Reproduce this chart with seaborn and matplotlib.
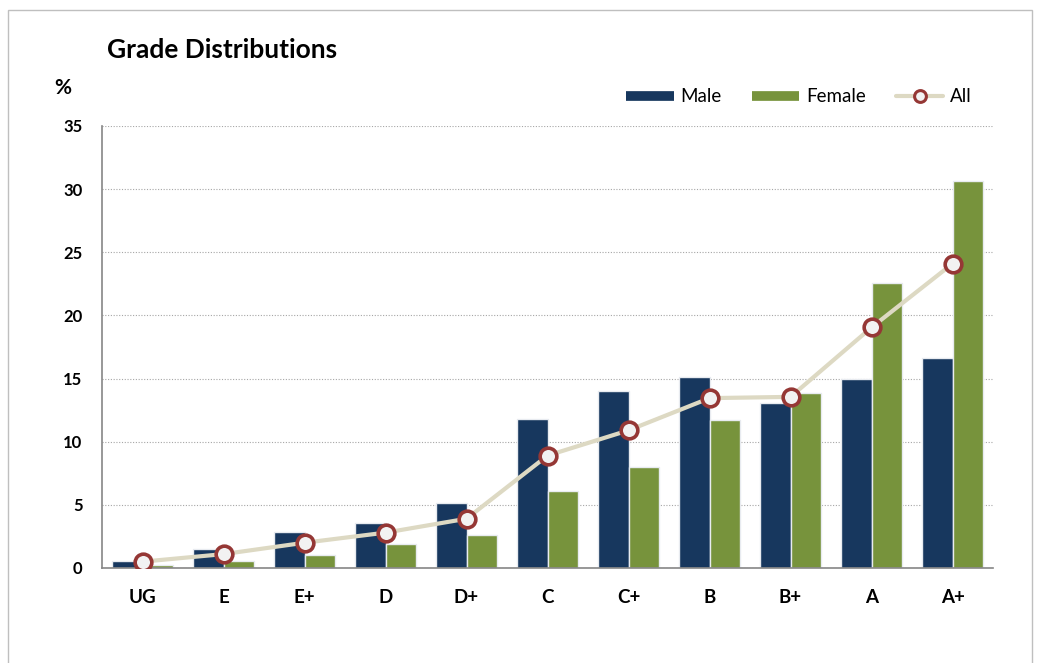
import pandas as pd
import seaborn as sns
import matplotlib.pyplot as plt
from matplotlib.lines import Line2D
from matplotlib.patches import Rectangle

# Data (percent)
grades = ["UG", "E", "E+", "D", "D+", "C", "C+", "B", "B+", "A", "A+"]
male = [0.55, 1.5, 2.85, 3.55, 5.15, 11.8, 14.0, 15.1, 13.05, 14.95, 16.65]
female = [0.25, 0.55, 1.0, 1.9, 2.6, 6.1, 8.0, 11.7, 13.85, 22.6, 30.65]
all_students = [0.5, 1.1, 2.0, 2.8, 3.9, 8.9, 10.9, 13.45, 13.55, 19.05, 24.1]

navy = "#17375E"
olive = "#77933C"
line_col = "#DDD9C3"
marker_edge = "#953735"

sns.set_style("white")
plt.rcParams["font.family"] = ["Lato", "DejaVu Sans"]
plt.rcParams["text.color"] = "black"
plt.rcParams["xtick.color"] = "black"
plt.rcParams["ytick.color"] = "black"

bars = pd.DataFrame({
    "grade": grades * 2,
    "pct": male + female,
    "sex": ["Male"] * len(grades) + ["Female"] * len(grades),
})
overall = pd.DataFrame({"grade": grades, "pct": all_students})

fig = plt.figure(figsize=(10.44, 6.63), dpi=100)
ax = fig.add_axes([0.0977, 0.1433, 0.8535, 0.6667])

sns.barplot(data=bars, x="grade", y="pct", hue="sex", order=grades,
            palette=[navy, olive], saturation=1, width=0.76,
            edgecolor="#E8EBF0", linewidth=1, legend=False, ax=ax, zorder=2)
sns.pointplot(data=overall, x="grade", y="pct", order=grades, color=line_col,
              markers="o", linestyles="-", errorbar=None, ax=ax,
              markersize=12, markerfacecolor="#F2F2F2",
              markeredgecolor=marker_edge, markeredgewidth=2.6,
              linewidth=3, zorder=4)

ax.set_xlim(-0.5, len(grades) - 0.5)
ax.set_ylim(0, 35)
ax.set_yticks(range(0, 36, 5))
ax.yaxis.grid(True, linestyle=(0, (1, 1.5)), color="#A6A6A6", linewidth=0.8)
ax.set_axisbelow(True)
ax.set_xlabel("")
ax.set_ylabel("")

for s in ["top", "right"]:
    ax.spines[s].set_visible(False)
for s in ["left", "bottom"]:
    ax.spines[s].set_color("#868686")
    ax.spines[s].set_linewidth(1.2)

ax.set_xticks([i - 0.5 for i in range(len(grades) + 1)], minor=True)
ax.tick_params(axis="x", which="major", length=0, pad=15, labelsize=13.5)
ax.tick_params(axis="x", which="minor", length=6, color="#868686", width=1.2)
ax.tick_params(axis="y", length=5, color="#868686", width=1.2, pad=9,
               labelsize=12)
for lab in ax.get_xticklabels() + ax.get_yticklabels():
    lab.set_fontweight("bold")

fig.text(0.1025, 0.925, "Grade Distributions", fontsize=19, fontweight="bold",
         va="center")
fig.text(0.052, 0.868, "%", fontsize=15, fontweight="bold", va="center")

handles = [
    Line2D([], [], color=navy, linewidth=7, solid_capstyle="butt"),
    Line2D([], [], color=olive, linewidth=7, solid_capstyle="butt"),
    Line2D([], [], color=line_col, linewidth=3, marker="o", markersize=8.5,
           markerfacecolor="#F2F2F2", markeredgecolor=marker_edge,
           markeredgewidth=2.2),
]
fig.legend(handles, ["Male", "Female", "All"], loc="center right",
           bbox_to_anchor=(0.947, 0.854), ncol=3, frameon=False,
           fontsize=13.5, handlelength=2.55, columnspacing=1.6,
           handletextpad=0.35)

fig.add_artist(Rectangle((8 / 1044, -0.02), 1024 / 1044, 1 - 10 / 663 + 0.02,
                         transform=fig.transFigure, fill=False,
                         edgecolor="#BFBFBF", linewidth=1))

fig.savefig("out.png", dpi=100)
